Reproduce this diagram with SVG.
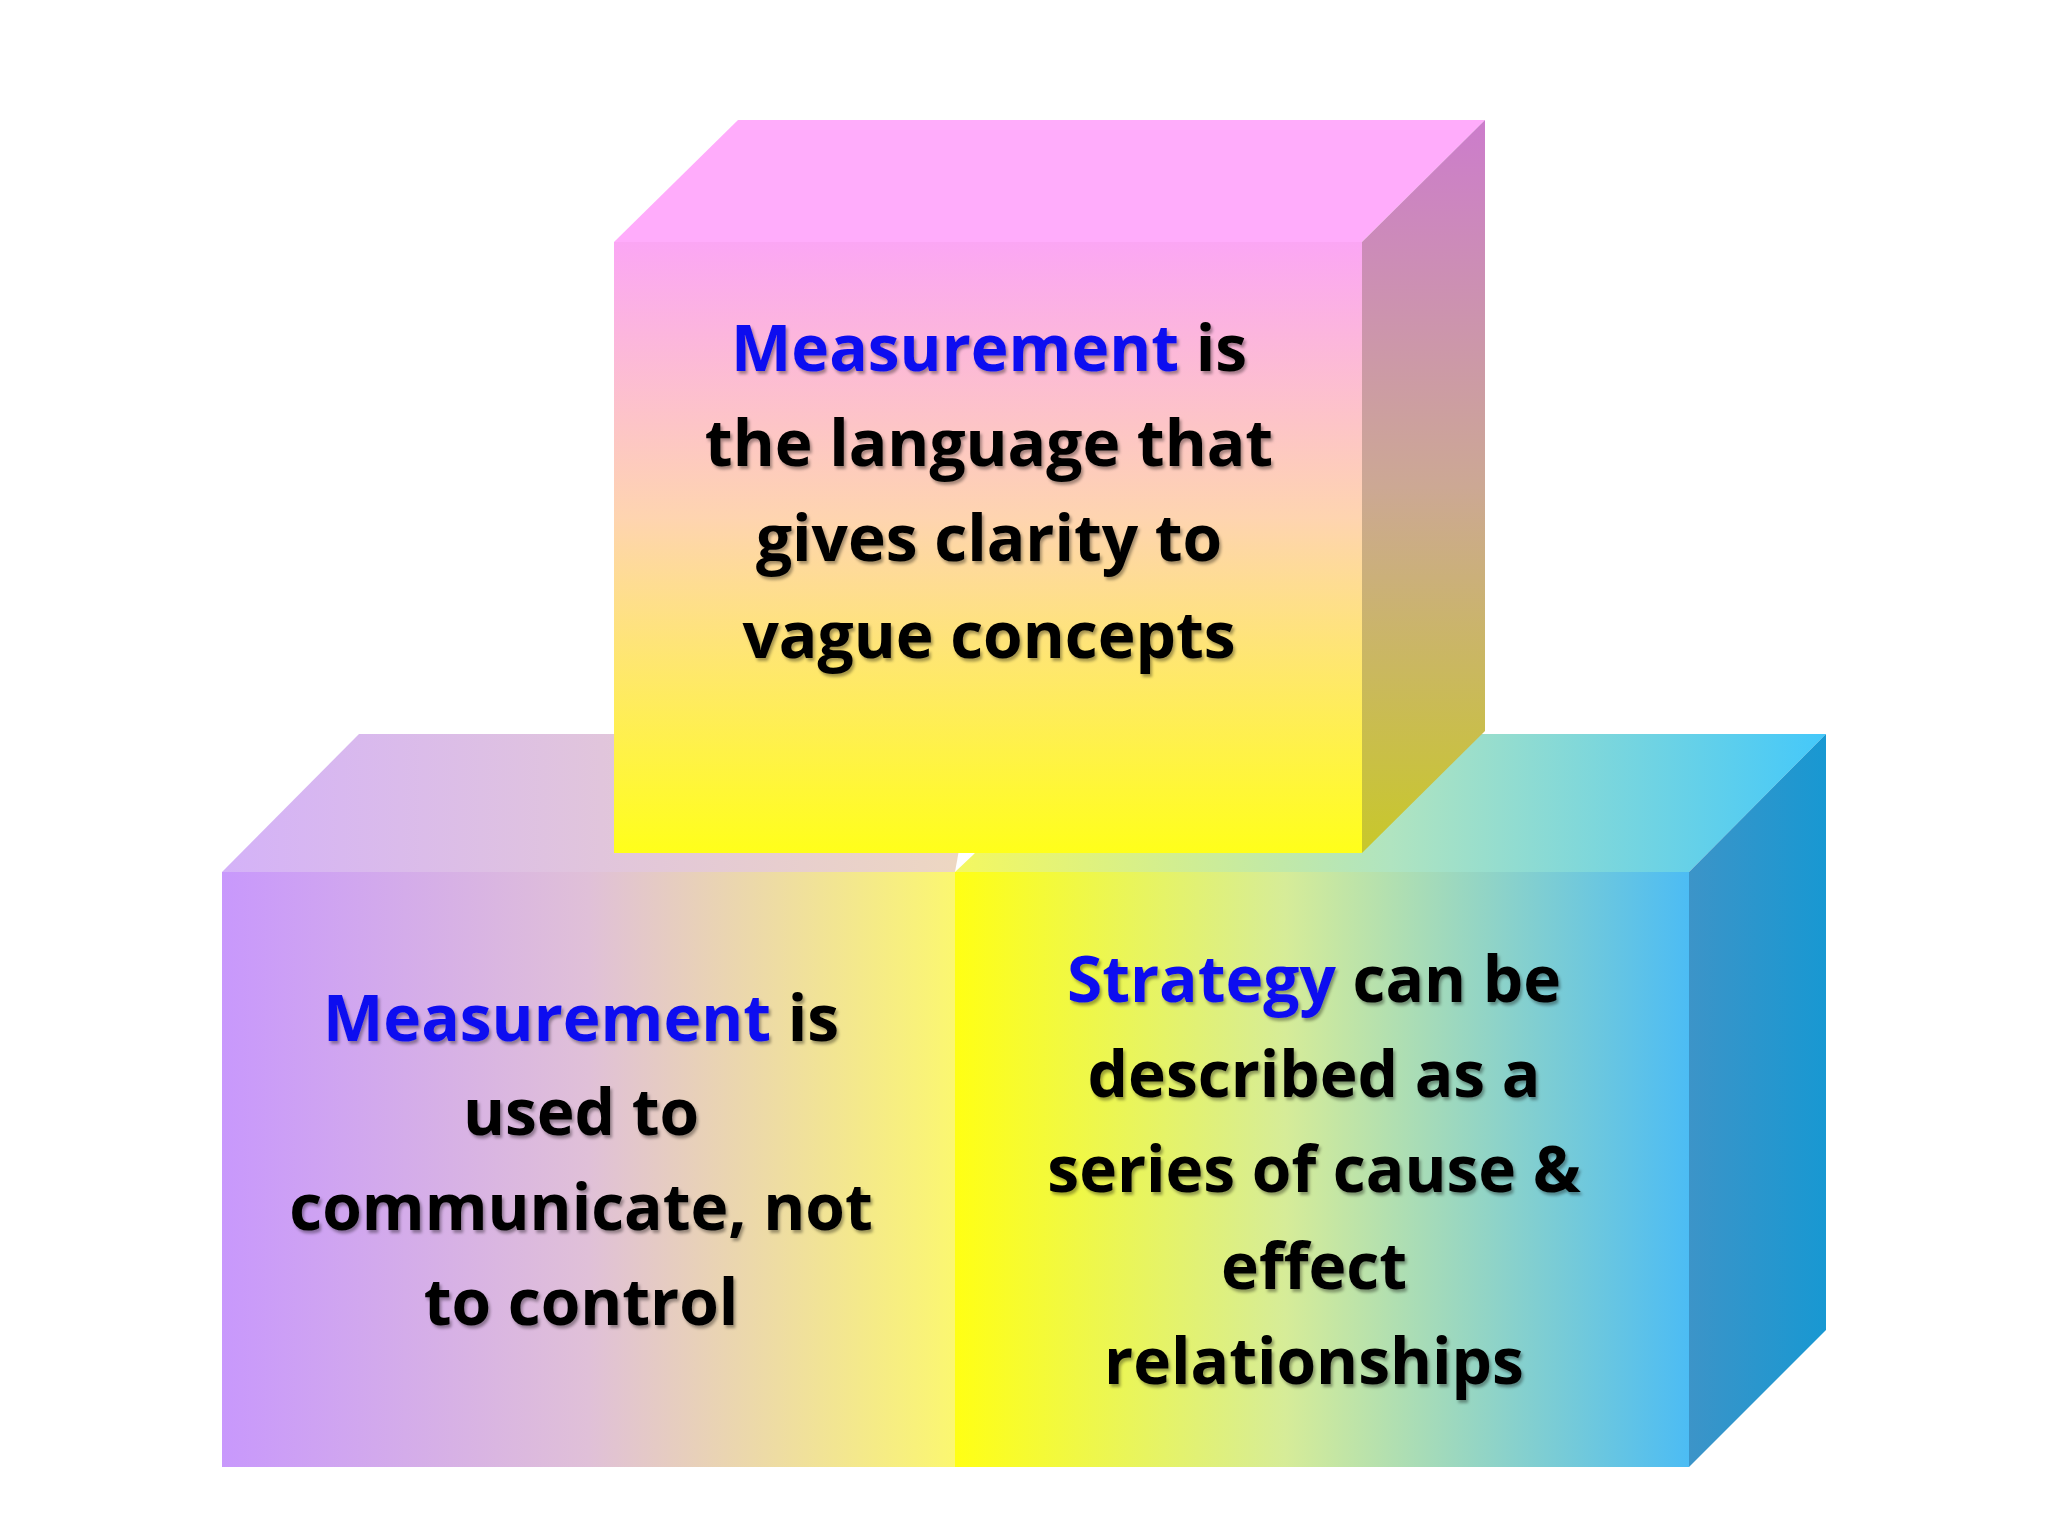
<svg xmlns="http://www.w3.org/2000/svg" width="2048" height="1536" viewBox="0 0 2048 1536">
<defs>
<linearGradient id="tf" x1="0" y1="0" x2="0" y2="1"><stop offset="0" stop-color="#fba6f4"/><stop offset="0.45" stop-color="#fed4b0"/><stop offset="1" stop-color="#ffff1a"/></linearGradient>
<linearGradient id="ts" x1="0" y1="0" x2="0" y2="1"><stop offset="0" stop-color="#cc7ccc"/><stop offset="0.5" stop-color="#cca894"/><stop offset="1" stop-color="#c8c82a"/></linearGradient>
<linearGradient id="lf" x1="0" y1="0" x2="1" y2="0"><stop offset="0" stop-color="#c898fc"/><stop offset="0.5" stop-color="#e0c0d8"/><stop offset="1" stop-color="#fbf770"/></linearGradient>
<linearGradient id="lt" x1="0" y1="0" x2="1" y2="0"><stop offset="0" stop-color="#d4b2f8"/><stop offset="1" stop-color="#eed8c0"/></linearGradient>
<linearGradient id="rf" x1="0" y1="0" x2="1" y2="0"><stop offset="0" stop-color="#ffff14"/><stop offset="0.45" stop-color="#d6ec98"/><stop offset="1" stop-color="#4cbcf4"/></linearGradient>
<linearGradient id="rt" x1="0" y1="0" x2="1" y2="0"><stop offset="0" stop-color="#f4f860"/><stop offset="0.5" stop-color="#b0e4c0"/><stop offset="1" stop-color="#44c8fa"/></linearGradient>
<linearGradient id="rs" x1="0" y1="0" x2="1" y2="0"><stop offset="0" stop-color="#3c94c8"/><stop offset="1" stop-color="#1898d2"/></linearGradient>
<filter id="sh" x="-10%" y="-10%" width="120%" height="130%"><feDropShadow dx="2" dy="3" stdDeviation="1.5" flood-color="#000" flood-opacity="0.35"/></filter>
</defs>
<style>
text{font-family:"Open Sans","Liberation Sans",sans-serif;font-weight:bold;font-size:64px;fill:#000;text-anchor:middle;filter:url(#sh)}
.b{fill:#1010f0}
</style>
<rect width="2048" height="1536" fill="#fff"/>
<g id="cube-left">
<polygon points="222,872 359,734 980,734 955,872" fill="url(#lt)"/>
<rect x="222" y="872" width="733" height="595" fill="url(#lf)"/>
</g>
<g id="cube-right">
<polygon points="955,872 973,855 1092,734 1826,734 1689,872" fill="url(#rt)"/>
<polygon points="1689,872 1826,734 1826,1330 1689,1467" fill="url(#rs)"/>
<rect x="955" y="872" width="734" height="595" fill="url(#rf)"/>
</g>
<g id="cube-top">
<polygon points="614,242 738,120 1485,120 1362,242" fill="#ffacfb"/>
<polygon points="1362,242 1485,120 1485,731 1362,853" fill="url(#ts)"/>
<rect x="614" y="242" width="748" height="611" fill="url(#tf)"/>
</g>
<g id="text-top">
<text x="989" y="371"><tspan class="b">Measurement</tspan> is</text>
<text x="989" y="466">the language that</text>
<text x="989" y="561">gives clarity to</text>
<text x="989" y="658">vague concepts</text>
</g>
<g id="text-left">
<text x="581" y="1041"><tspan class="b">Measurement</tspan> is</text>
<text x="581" y="1135">used to</text>
<text x="581" y="1230">communicate, not</text>
<text x="581" y="1325">to control</text>
</g>
<g id="text-right">
<text x="1314" y="1002"><tspan class="b">Strategy</tspan> can be</text>
<text x="1314" y="1097">described as a</text>
<text x="1314" y="1192">series of cause &amp;</text>
<text x="1314" y="1289">effect</text>
<text x="1314" y="1384">relationships</text>
</g>
<g id="connectors"/>
</svg>
